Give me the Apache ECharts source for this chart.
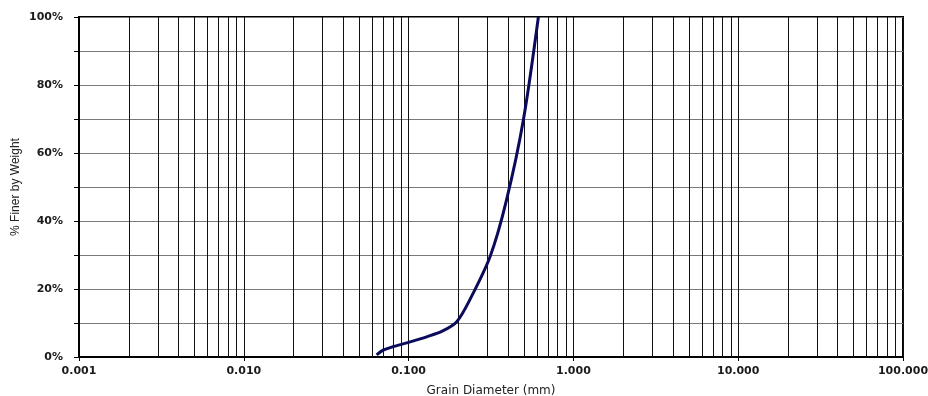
<!DOCTYPE html>
<html><head><meta charset="utf-8">
<script src="https://cdn.jsdelivr.net/npm/echarts@6/dist/echarts.min.js"></script>
<style>html,body{margin:0;padding:0;background:#fff}#c{width:928px;height:396px}</style>
</head><body><div id="c"></div>
<script>
// Grain size distribution
const grainDiameter = [0.064, 0.07, 0.08, 0.1, 0.13, 0.16, 0.196, 0.235, 0.312, 0.392, 0.497, 0.613];
const percentFiner  = [0.6, 2, 3, 4.3, 6, 7.6, 10.4, 16.8, 29.5, 46, 69.7, 100];
const decades = [0.001, 0.01, 0.1, 1, 10];
const minorMultipliers = [2, 3, 4, 5, 6, 7, 8, 9];
const xTickLabels = ['0.001', '0.010', '0.100', '1.000', '10.000', '100.000'];

const minorLines = [];
decades.forEach(d => minorMultipliers.forEach(m => minorLines.push(d * m)));

const labelFont = '"DejaVu Sans", Verdana, sans-serif';
const chart = echarts.init(document.getElementById('c'), null, { renderer: 'canvas' });
chart.setOption({
  animation: false,
  grid: { left: 79, right: 25, top: 17, bottom: 39, show: true, borderColor: '#000', borderWidth: 2,
          backgroundColor: 'transparent', containLabel: false, outerBoundsMode: 'none' },
  xAxis: {
    type: 'log', logBase: 10, min: 0.001, max: 100,
    name: 'Grain Diameter (mm)', nameLocation: 'middle', nameGap: 28,
    nameTextStyle: { fontFamily: labelFont, fontSize: 12, color: '#222' },
    axisLine: { show: true, lineStyle: { color: '#000', width: 2 } },
    axisTick: { show: true, length: 4, lineStyle: { color: '#000' } },
    axisLabel: {
      fontFamily: labelFont, fontSize: 11, fontWeight: 'bold', color: '#1a1a1a', margin: 9,
      formatter: v => { const i = Math.round(Math.log10(v)) + 3; return xTickLabels[i] || ''; }
    },
    splitLine: { show: true, lineStyle: { color: '#111', width: 1 } }
  },
  yAxis: {
    type: 'value', min: 0, max: 100, interval: 10,
    name: '% Finer by Weight', nameLocation: 'middle', nameGap: 57, nameRotate: 90, nameMoveOverlap: false,
    nameTextStyle: { fontFamily: '"Liberation Sans Narrow", "Liberation Sans", Arial, sans-serif', fontSize: 12, color: '#222' },
    axisLine: { show: true, lineStyle: { color: '#000', width: 2 } },
    axisTick: { show: true, length: 5, lineStyle: { color: '#000' } },
    axisLabel: { fontFamily: labelFont, fontSize: 11, fontWeight: 'bold', color: '#1a1a1a', margin: 16,
      formatter: v => (v % 20 === 0 ? v + '%' : '') },
    splitLine: { show: true, lineStyle: { color: '#7a7a7a', width: 1 } }
  },
  series: [
    {
      type: 'custom', silent: true, z: 1,
      data: minorLines.map(v => [v]),
      encode: { x: 0 },
      renderItem: (params, api) => {
        const x = api.value(0);
        const p0 = api.coord([x, 0]);
        const p1 = api.coord([x, 100]);
        return { type: 'line', shape: { x1: Math.round(p0[0]) + 0.5, y1: p0[1], x2: Math.round(p1[0]) + 0.5, y2: p1[1] },
                 style: { stroke: '#111', lineWidth: 1 } };
      }
    },
    {
      type: 'line', z: 5,
      data: grainDiameter.map((d, i) => [d, percentFiner[i]]),
      smooth: 0.3, showSymbol: false, symbol: 'none',
      lineStyle: { color: '#0b0b5c', width: 3 }
    }
  ]
});
</script></body></html>
